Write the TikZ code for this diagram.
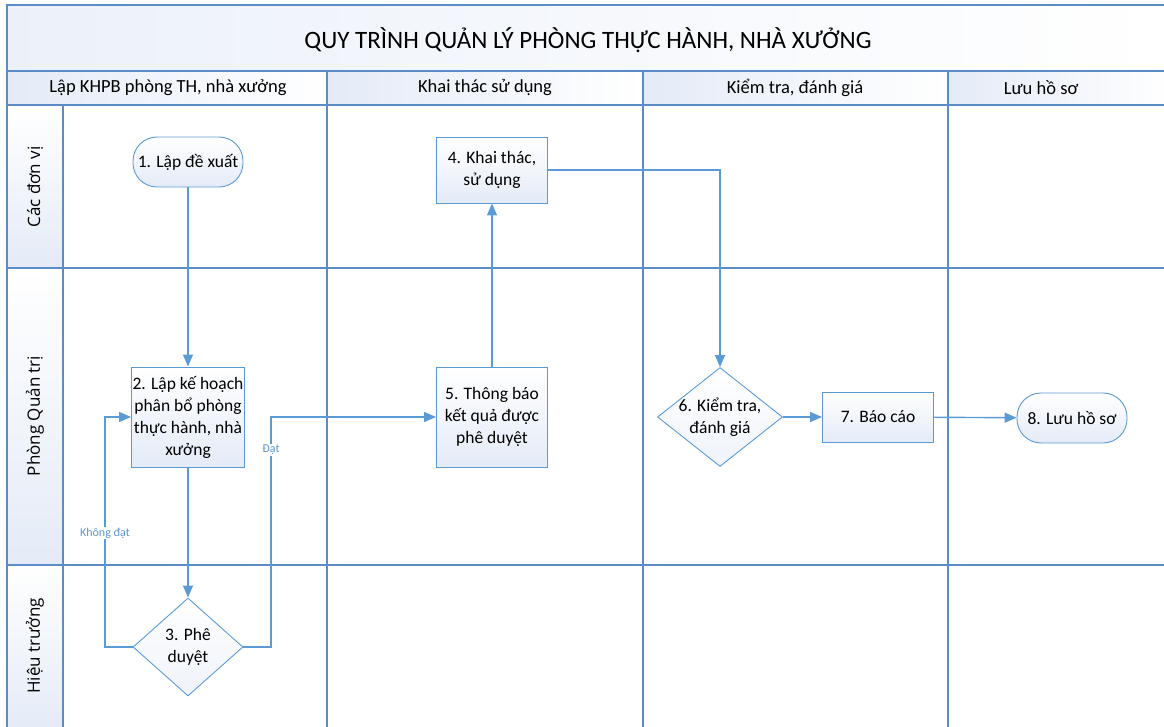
\documentclass[tikz,border=0pt]{standalone}
\usepackage{fontspec}
\setmainfont{Carlito}
\newfontfamily\lanefont{Open Sans}
\usetikzlibrary{arrows.meta,shapes.geometric}
\definecolor{lineblue}{RGB}{91,155,213}
\definecolor{frameblue}{RGB}{90,140,200}
\definecolor{fillblue}{RGB}{228,235,247}
\definecolor{labelblue}{RGB}{95,150,210}
\begin{document}
\begin{tikzpicture}[x=1pt,y=-1pt,
  frame/.style={draw=frameblue,line width=1.5pt},
  conn/.style={draw=lineblue,line width=1.4pt,-{Triangle[length=12pt,width=10pt]}},
  proc/.style={draw=lineblue,line width=0.9pt,top color=white,bottom color=fillblue,
    minimum width=111pt,inner sep=1pt,align=center,font=\fontsize{17.5}{22}\selectfont},
  term/.style={proc,rounded corners=24pt,minimum width=110pt,minimum height=50pt},
  decision/.style={diamond,draw=lineblue,line width=0.9pt,top color=white,bottom color=fillblue!60,
    inner sep=0pt},
  dtext/.style={align=center,font=\fontsize{17.5}{22}\selectfont},
  hdr/.style={font=\fontsize{18.5}{22}\selectfont},
  lane/.style={rotate=90,font=\lanefont\fontsize{17}{20}\selectfont},
  elabel/.style={fill=white,inner sep=1pt,text=labelblue,font=\fontsize{12}{14}\selectfont}
]
\useasboundingbox (0,0) rectangle (1164,727);
% background shadings
\shade[left color=fillblue!70,right color=white] (7,5) rectangle (1170,71);
\shade[left color=fillblue,right color=white] (7,71) rectangle (327,105);
\shade[left color=fillblue,right color=white] (327,71) rectangle (643,105);
\shade[left color=fillblue,right color=white] (643,71) rectangle (948,105);
\shade[left color=fillblue,right color=white] (948,71) rectangle (1170,105);
\shade[bottom color=fillblue,top color=white] (7,105) rectangle (63,268);
\shade[bottom color=fillblue,top color=white] (7,268) rectangle (63,565);
\shade[bottom color=fillblue,top color=white] (7,565) rectangle (63,730);
% frame lines
\draw[frame] (1170,5) -- (7,5) -- (7,730);
\draw[frame] (7,71) -- (1170,71);
\draw[frame] (7,105) -- (1170,105);
\draw[frame] (7,268) -- (1170,268);
\draw[frame] (7,565) -- (1170,565);
\draw[frame] (63,105) -- (63,730);
\draw[frame] (327,71) -- (327,730);
\draw[frame] (643,71) -- (643,730);
\draw[frame] (948,71) -- (948,730);
% texts
\node[font=\fontsize{25}{30}\selectfont] (title) at (588,40) {QUY TRÌNH QUẢN LÝ PHÒNG THỰC HÀNH, NHÀ XƯỞNG};
\node[hdr] (h1) at (168,88) {Lập KHPB phòng TH, nhà xưởng};
\node[hdr] (h2) at (485,88) {Khai thác sử dụng};
\node[hdr] (h3) at (795,88) {Kiểm tra, đánh giá};
\node[hdr] (h4) at (1041,88) {Lưu hồ sơ};
\node[lane] (l1) at (35,187) {Các đơn vị};
\node[lane] (l2) at (35,416) {Phòng Quản trị};
\node[lane] (l3) at (35,646) {Hiệu trưởng};
% nodes
\node[term] (n1) at (188,162) {1. Lập đề xuất};
\node[proc,minimum width=110pt,minimum height=100pt] (n2) at (188,417) {2. Lập kế hoạch\\phân bổ phòng\\thực hành, nhà\\xưởng};
\node[decision,minimum width=110pt,minimum height=98pt] (n3) at (188,647) {};
\node[dtext] (t3) at (n3.center) {3. Phê\\duyệt};
\node[proc,minimum height=66pt] (n4) at (492,170) {4. Khai thác,\\sử dụng};
\node[proc,minimum height=100pt] (n5) at (492,417) {5. Thông báo\\kết quả được\\phê duyệt};
\node[decision,minimum width=125pt,minimum height=99pt] (n6) at (720,417) {};
\node[dtext] (t6) at (n6.center) {6. Kiểm tra,\\đánh giá};
\node[proc,minimum height=50pt] (n7) at (878,417) {7. Báo cáo};
\node[term] (n8) at (1072,418) {8. Lưu hồ sơ};
% coordinates
\coordinate (k1) at (105,647);
\coordinate (k2) at (105,417);
\coordinate (d1) at (271,647);
\coordinate (d2) at (271,417);
\coordinate (c1) at (720,170);
% connectors
\draw[conn] (n1) -- (n2);
\draw[conn] (n2) -- (n3.north);
\draw[conn] (n3.west) -- (k1) -- (k2) -- (n2.west);
\node[elabel] (lk) at (105,533) {Không đạt};
\draw[conn] (n3.east) -- (d1) -- (d2) -- (n5.west);
\node[elabel] (ld) at (271,450) {Đạt};
\draw[conn] (n5) -- (n4);
\draw[conn] (n4.east) -- (c1) -- (n6.north);
\draw[conn] (n6.east) -- (n7);
\draw[conn] (n7) -- (n8);
\end{tikzpicture}
\end{document}
